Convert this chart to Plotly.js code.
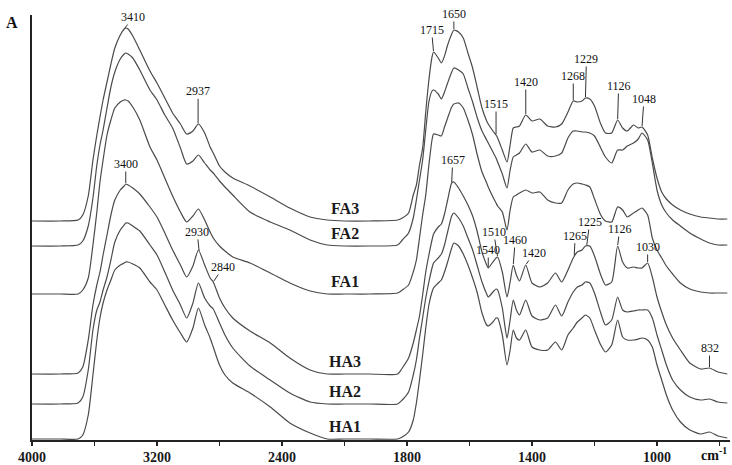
<!DOCTYPE html>
<html>
<head>
<meta charset="utf-8">
<script src="https://cdn.plot.ly/plotly-3.0.1.min.js"></script>
<style>
  html, body { margin: 0; padding: 0; background: #ffffff; }
  #chart { width: 732px; height: 465px; }
</style>
</head>
<body>
<div id="chart"></div>
<script>
// Wavenumber grid (cm-1) shared by all spectra
const wavenumber = [4000,3820,3705,3675,3640,3610,3585,3565,3545,3520,
  3495,3470,3435,3410,3400,3385,3355,3310,3245,3200,
  3150,3100,3050,3010,2970,2935,2895,2860,2840,2800,
  2765,2715,2605,2475,2350,2220,2110,2000,1920,1830,
  1815,1795,1780,1770,1760,1750,1740,1730,1720,1715,
  1700,1690,1680,1670,1657,1650,1635,1620,1605,1590,
  1575,1560,1545,1540,1525,1515,1510,1495,1480,1470,
  1460,1450,1440,1420,1400,1375,1350,1325,1305,1285,
  1268,1255,1240,1229,1215,1200,1180,1165,1145,1126,
  1110,1095,1075,1060,1048,1030,1015,1000,985,970,
  950,925,895,860,832,805,775];

// Absorbance (stacked, arbitrary units) of each fraction
const FA3 = [219,219,220,225,244,280,305,323,340,358,
  376,392,405,411,412,411,404,390,369,357,
  342,327,316,306,309,316,307,293,287,274,
  268,262,254,243,232,223,220,219,219,220,
  222,227,245,255,275,292,328,360,383,388,
  382,377,384,395,406,410,408,402,387,372,
  352,332,319,316,309,305,302,290,278,295,
  312,313,314,325,319,321,314,313,316,328,
  339,338,339,342,341,334,316,307,307,320,
  312,309,315,312,313,305,282,262,248,241,
  235,230,226,223,222,221,221];

const FA2 = [194,194,195,199,214,242,275,295,310,332,
  353,368,381,386,387,386,382,370,350,340,
  325,312,292,276,279,285,277,270,267,259,
  253,245,228,218,210,200,195,194,194,195,
  200,207,222,240,260,280,310,338,349,350,
  346,341,348,357,368,372,370,366,352,338,
  322,309,300,297,288,282,278,266,252,270,
  283,285,287,296,288,290,284,284,287,302,
  309,309,308,308,307,304,292,283,277,290,
  290,294,297,301,307,300,277,250,235,227,
  220,214,207,201,197,195,195];

const FA1 = [146,146,146,150,162,195,228,258,280,305,
  320,332,338,340,340,339,333,320,293,280,
  262,244,228,218,224,231,220,208,202,194,
  189,183,177,167,157,149,146,146,146,147,
  150,155,168,180,202,225,245,275,300,306,
  305,304,313,322,333,336,337,332,320,305,
  285,268,257,253,243,237,234,228,210,230,
  243,245,247,250,247,248,240,237,237,250,
  256,257,256,255,253,241,225,219,218,233,
  230,223,227,230,232,225,202,190,182,174,
  166,157,151,148,147,147,147];

const HA3 = [66,66,67,73,100,135,155,168,185,205,
  225,240,250,254,256,255,252,246,233,223,
  207,190,175,163,174,190,175,162,158,142,
  132,122,109,97,82,70,66,66,66,66,
  72,82,97,110,124,145,168,185,200,206,
  213,216,226,240,257,258,252,244,235,224,
  208,188,175,172,178,182,183,168,143,158,
  175,165,159,175,157,153,157,167,158,170,
  182,188,190,194,194,184,165,155,158,194,
  178,172,173,172,172,177,163,143,128,115,
  102,90,77,71,72,68,66];

const HA2 = [36,36,37,43,70,110,130,138,150,163,
  180,198,210,215,217,217,214,209,195,185,
  168,150,135,122,137,157,142,134,131,117,
  105,92,74,60,47,38,36,36,36,36,
  40,48,65,80,102,122,142,158,172,177,
  182,186,195,208,224,227,222,214,202,190,
  174,158,146,143,148,151,150,132,102,120,
  140,130,125,140,124,120,122,135,124,138,
  148,153,155,158,157,147,127,115,120,143,
  130,128,129,130,130,130,122,105,90,75,
  60,50,43,40,41,38,37];

const HA1 = [1,1,1,5,25,65,100,122,137,150,
  160,170,175,177,178,178,176,172,158,150,
  135,120,107,98,112,132,115,102,93,75,
  65,57,47,33,17,7,1,1,1,1,
  3,8,20,37,60,85,112,135,148,152,
  157,160,168,178,192,197,194,186,175,162,
  147,127,115,114,118,122,122,105,75,90,
  110,102,100,110,93,90,90,98,90,105,
  112,118,122,125,122,110,95,88,95,120,
  103,100,100,101,102,100,93,75,60,45,
  30,18,10,6,8,4,2];

const seriesNames = ['FA3', 'FA2', 'FA1', 'HA3', 'HA2', 'HA1'];
const seriesData = { FA3, FA2, FA1, HA3, HA2, HA1 };

// Labelled axis ticks (cm-1); unlabelled minor ticks fall halfway between
const tickWavenumbers = [4000, 3200, 2400, 1800, 1400, 1000];
const tickLabels = ['4000', '3200', '2400', '1800', '1400', '1000'];

// Band assignments marked on the spectra
const bandSeries = ['FA3','FA3','FA3','FA3','FA3','FA3','FA3','FA3','FA3','FA3',
  'HA3','HA3','HA3','HA3','HA3','HA3','HA3','HA3','HA3','HA3','HA3','HA3','HA3'];
const bandWavenumbers = [3410, 2937, 1715, 1650, 1515, 1420, 1268, 1229, 1126, 1048,
  3400, 2930, 2840, 1657, 1540, 1510, 1460, 1420, 1265, 1225, 1126, 1030, 832];

// Leader offsets (px) of the band labels
const bandDx = [9, 0, -2, 0, 0, 0, 0, 1, 1, 2,
  0, -2, 10, 1, 0, -4, 2, 8, 1, 3, 2, 0, 0];
const bandDy = [-12, -33, -22, -16, -31, -33, -25, -39, -34, -28,
  -20, -20, -15, -23, -18, -25, -25, -12, -21, -24, -17, -16, -20];

// Above 2000 cm-1 one division is 400 cm-1, below it 200 cm-1
function axisPos(wn) {
  return wn >= 2000 ? (4000 - wn) / 400 : 5 + (2000 - wn) / 200;
}

function valueAt(values, wn) {
  for (let i = 0; i < wavenumber.length - 1; i++) {
    const a = wavenumber[i], b = wavenumber[i + 1];
    if (wn <= a && wn >= b) {
      const f = (a - wn) / (a - b);
      return values[i] + f * (values[i + 1] - values[i]);
    }
  }
  return values[values.length - 1];
}

const xPos = wavenumber.map(axisPos);
const serif = 'Liberation Serif, Times New Roman, serif';

const traces = seriesNames.map(name => ({
  type: 'scatter',
  mode: 'lines',
  name: name,
  x: xPos,
  y: seriesData[name],
  line: { color: '#4a4a4a', width: 1.2, shape: 'spline', smoothing: 0.6 },
  hoverinfo: 'skip'
}));

const annotations = [];

// Band labels with leader lines
bandWavenumbers.forEach((wn, i) => {
  annotations.push({
    x: axisPos(wn),
    y: valueAt(seriesData[bandSeries[i]], wn),
    xref: 'x', yref: 'y',
    text: String(wn),
    showarrow: true,
    arrowhead: 0,
    arrowwidth: 1,
    arrowcolor: '#333333',
    standoff: 1,
    ax: bandDx[i],
    ay: bandDy[i],
    borderpad: 0,
    font: { family: serif, size: 12, color: '#111111' }
  });
});

// Sample names on the flat region near 2000 cm-1
seriesNames.forEach(name => {
  annotations.push({
    x: axisPos(2000),
    y: valueAt(seriesData[name], 2000),
    xref: 'x', yref: 'y',
    yshift: 13,
    text: name,
    showarrow: false,
    xanchor: 'center', yanchor: 'middle',
    font: { family: serif, size: 16, color: '#1a1a1a', weight: 'bold' }
  });
});

// Axis names
annotations.push({
  xref: 'paper', yref: 'paper', x: 0, y: 1,
  xshift: -20, yshift: -7,
  xanchor: 'center', yanchor: 'middle',
  text: 'A', showarrow: false,
  font: { family: serif, size: 16, color: '#111111', weight: 'bold' }
});
annotations.push({
  xref: 'paper', yref: 'paper', x: 1, y: 0,
  xshift: -1, yshift: -14,
  xanchor: 'right', yanchor: 'middle',
  text: 'cm<sup>-1</sup>', showarrow: false,
  font: { family: serif, size: 14, color: '#111111', weight: 'bold' }
});

const layout = {
  width: 732,
  height: 465,
  margin: { l: 32, r: 2, t: 15, b: 25 },
  paper_bgcolor: '#ffffff',
  plot_bgcolor: '#ffffff',
  showlegend: false,
  xaxis: {
    range: [0, 11.168],
    tickvals: tickWavenumbers.map(axisPos),
    ticktext: tickLabels,
    ticks: 'outside',
    ticklen: 4,
    tickwidth: 1.5,
    tickcolor: '#222222',
    minor: { tick0: 0, dtick: 1, ticks: 'outside', ticklen: 4, tickwidth: 1.5, tickcolor: '#222222', showgrid: false },
    showline: true,
    linecolor: '#222222',
    linewidth: 1.5,
    showgrid: false,
    zeroline: false,
    fixedrange: true,
    tickfont: { family: serif, size: 14, color: '#1a1a1a', weight: 'bold' }
  },
  yaxis: {
    range: [0, 425],
    showline: true,
    linecolor: '#222222',
    linewidth: 2,
    showticklabels: false,
    ticks: '',
    showgrid: false,
    zeroline: false,
    fixedrange: true
  },
  annotations: annotations
};

Plotly.newPlot('chart', traces, layout, { displayModeBar: false, staticPlot: true });
</script>
</body>
</html>
